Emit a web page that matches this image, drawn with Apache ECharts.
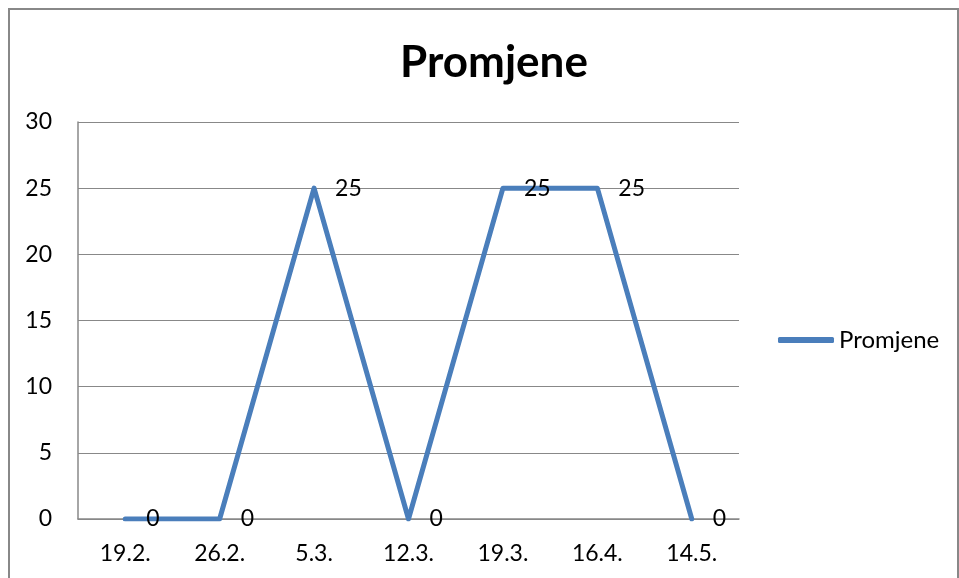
<!DOCTYPE html>
<html><head><meta charset="utf-8">
<script src="https://cdn.jsdelivr.net/npm/echarts@6/dist/echarts.min.js"></script>
<style>html,body{margin:0;padding:0;background:#fff}#c{width:959px;height:578px}</style>
</head><body><div id="c"></div>
<script>
const categories = ['19.2.', '26.2.', '5.3.', '12.3.', '19.3.', '16.4.', '14.5.'];
const values = [0, 0, 25, 0, 25, 25, 0];
const seriesName = 'Promjene';
const titleText = 'Promjene';

const font = 'Lato, "Open Sans", sans-serif';
const chart = echarts.init(document.getElementById('c'));
chart.setOption({
  animation: false,
  backgroundColor: '#fff',
  title: {
    text: titleText, left: 489, top: 36, textAlign: 'center',
    textStyle: { fontFamily: font, fontSize: 44, fontWeight: 'bold', color: '#000' }
  },
  legend: {
    data: [seriesName], left: 773, top: 323, itemWidth: 56, itemHeight: 6, itemGap: 5,
    icon: 'roundRect',
    itemStyle: { color: '#4a7ebb', opacity: 1 },
    textStyle: { fontFamily: font, fontSize: 24, color: '#000' }
  },
  grid: { left: 78, top: 122, width: 661, height: 397, containLabel: false },
  xAxis: {
    type: 'category', data: categories, boundaryGap: true,
    axisLine: { lineStyle: { color: '#888', width: 1.5 } },
    axisTick: { show: false },
    axisLabel: { color: '#000', fontFamily: font, fontSize: 23, margin: 23 }
  },
  yAxis: {
    type: 'value', min: 0, max: 30, interval: 5,
    axisLine: { show: true, lineStyle: { color: '#888', width: 1.5 } },
    axisTick: { show: false },
    splitLine: { lineStyle: { color: '#888', width: 1.2 } },
    axisLabel: { color: '#000', fontFamily: font, fontSize: 23, margin: 26 }
  },
  graphic: [{
    type: 'rect', shape: { x: 9, y: 9, width: 949, height: 600 },
    style: { fill: 'none', stroke: '#888', lineWidth: 2 }, silent: true
  }],
  series: [{
    name: seriesName, type: 'line', data: values, showSymbol: true, symbol: 'circle', symbolSize: 2,
    lineStyle: { color: '#4a7ebb', width: 5, cap: 'round', join: 'round' },
    itemStyle: { color: '#4a7ebb' },
    label: { show: true, position: 'right', distance: 20, color: '#000', fontFamily: font, fontSize: 23 },
    labelLayout: { hideOverlap: false }
  }]
});
</script></body></html>
